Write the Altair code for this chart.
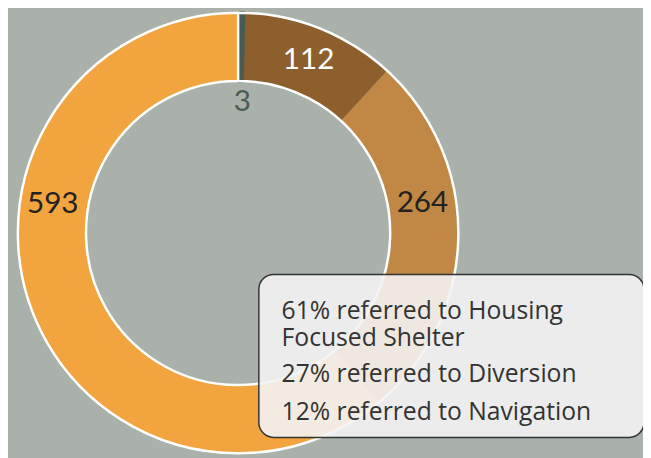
import altair as alt
import pandas as pd

# ---- data ----
categories = ["Other", "Navigation", "Diversion", "Housing Focused Shelter"]
values = [3, 112, 264, 593]
notes = [
    ["61% referred to Housing", "Focused Shelter"],
    ["27% referred to Diversion"],
    ["12% referred to Navigation"],
]

# ---- styles ----
colors = ["#4b5b52", "#8c5f2c", "#c08844", "#f2a43f"]
label_colors = ["#4b5b52", "#ffffff", "#222222", "#222222"]
label_deg = [1.8, 22.2, 80.9, 279.0]
label_r = [133, 189, 189, 190]
note_y = [304, 368, 406]
CX, CY = 233, 225
R_OUT, R_IN = 223, 154
FONT = "Lato"
NOTE_FONT = "Open Sans"

total = sum(values)
df = pd.DataFrame({
    "category": categories,
    "value": values,
    "order": list(range(len(values))),
    "label": [str(v) for v in values],
    "label_deg": label_deg,
    "label_r": label_r,
    "lcolor": label_colors,
})

theta_scale = alt.Scale(domain=[0, total], range=[0, 6.28318])
color_scale = alt.Scale(domain=categories, range=colors)

arcs = alt.Chart(df).mark_arc(radius=R_OUT, radius2=R_IN, stroke=None).encode(
    theta=alt.Theta("value:Q", stack=True, scale=theta_scale),
    order=alt.Order("order:Q"),
    color=alt.Color("category:N", scale=color_scale, legend=None),
    x=alt.value(CX), y=alt.value(CY),
)

# thin first slice drawn again on top with an outline of its own colour so it stays visible
small = alt.Chart(df).transform_filter(alt.datum.order == 0).mark_arc(
    radius=R_OUT, radius2=R_IN, stroke=colors[0], strokeWidth=3,
).encode(
    theta=alt.Theta("value:Q", stack=True, scale=theta_scale),
    color=alt.Color("category:N", scale=color_scale, legend=None),
    x=alt.value(CX + 1.5), y=alt.value(CY),
)

ring = alt.Chart(pd.DataFrame({"a": [0]})).mark_arc(
    theta=0, theta2=6.28318, radius=R_OUT, radius2=R_IN,
    fillOpacity=0, stroke="white", strokeWidth=2.5,
).encode(x=alt.value(CX), y=alt.value(CY))

labels = alt.Chart(df).mark_text(font=FONT, fontSize=30, align="center", baseline="middle").encode(
    theta=alt.Theta("label_deg:Q", scale=alt.Scale(domain=[0, 360], range=[0, 6.28318]), stack=None),
    radius=alt.Radius("label_r:Q", scale=None),
    text="label:N",
    color=alt.Color("lcolor:N", scale=None),
    x=alt.value(CX), y=alt.value(CY),
)

box = alt.Chart(pd.DataFrame({"a": [0]})).mark_rect(
    fill="#f3f3f3", fillOpacity=0.9, stroke="#333333", strokeWidth=1.5, cornerRadius=15,
).encode(x=alt.value(254), x2=alt.value(644), y=alt.value(267), y2=alt.value(432))

notes_df = pd.DataFrame({"text": notes, "ypos": note_y})
note_text = alt.Chart(notes_df).mark_text(
    font=NOTE_FONT, fontSize=25, align="left", baseline="middle", color="#333333", lineHeight=27,
).encode(
    text="text",
    x=alt.value(277),
    y=alt.Y("ypos:Q", scale=None),
)

chart = alt.layer(arcs, small, ring, labels, box, note_text).resolve_scale(
    theta="independent", color="independent", radius="independent", y="independent",
).properties(
    width=643, height=450, padding=0, autosize=alt.AutoSizeParams(type="none"),
    background="#a9b1aa",
).configure_view(stroke=None)

chart.save("out.html", embed_options={"renderer": "svg", "actions": False})
